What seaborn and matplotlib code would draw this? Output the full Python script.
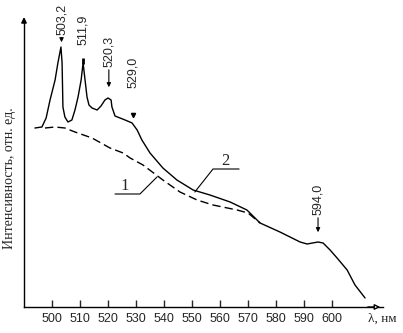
import matplotlib
matplotlib.use("Agg")
import matplotlib.pyplot as plt
import pandas as pd
import seaborn as sns

# -- Spectrum data (wavelength nm, intensity rel. units) -----------------------
wl_2 = [493.9, 496.4, 497.9, 499.3, 501.1, 502.1, 503.2, 503.6, 503.9, 504.6,
        505.7, 507.1, 508.2, 509.3, 510.4, 511.1, 511.8, 512.5, 513.2, 514.3,
        516.1, 517.5, 518.9, 520.0, 521.1, 521.4, 522.5, 524.3, 526.1, 528.6,
        530.4, 532.1, 535.0, 539.6, 544.6, 550.4, 556.4, 563.6, 569.6, 574.3,
        581.4, 588.6, 591.1, 595.0, 596.8, 599.3, 601.8, 605.4, 608.2, 611.8]
int_2 = [179, 180, 189, 207, 227, 244, 260, 244, 200, 190,
         185, 187, 197, 210, 227, 244, 227, 210, 202, 199,
         197, 201, 207, 209, 207, 200, 191, 189, 187, 184,
         177, 167, 154, 139, 127, 117, 112, 105, 97, 84,
         75, 65, 63, 65, 64, 57, 49, 37, 22, 9]

wl_1 = [497.5, 501.1, 504.6, 508.2, 514.3, 520.7, 525.4, 527.9, 532.5, 539.6,
        545.7, 551.8, 557.5, 566.1, 570.0, 574.3]
int_1 = [179, 180, 179, 175, 169, 159, 154, 149, 142, 127,
         115, 107, 102, 97, 94, 84]

peak_labels = ["503,2", "511,9", "520,3", "529,0", "594,0"]
peak_wl = [503.4, 511.1, 520.3, 528.9, 595.0]
peak_tip = [262, 246, 217, 192, 72]
peak_text = [272, 262, 240, 219, 92]
peak_line = [True, False, True, False, True]

xticks = [500, 510, 520, 530, 540, 550, 560, 570, 580, 590, 600]

sns.set_style("white")
plt.rcParams["font.family"] = ["Liberation Serif", "DejaVu Serif"]
SANS = ["Liberation Sans", "DejaVu Sans"]

df1 = pd.DataFrame({"wl": wl_1, "I": int_1})
df2 = pd.DataFrame({"wl": wl_2, "I": int_2})

fig = plt.figure(figsize=(4.03, 3.33), dpi=100)
ax = fig.add_axes([24 / 403, 26 / 333, 359 / 403, 287 / 333])

sns.lineplot(data=df2, x="wl", y="I", ax=ax, color="black", lw=1.0,
             sort=False, estimator=None)
sns.lineplot(data=df1, x="wl", y="I", ax=ax, color="black", lw=1.0,
             sort=False, estimator=None, linestyle=(0, (6, 3)))

ax.set_xlim(490, 618.2)
ax.set_ylim(0, 287)
ax.set_xlabel("")
ax.set_ylabel("")

# -- Axes: only left/bottom, with arrow heads ----------------------------------
for s in ["top", "right"]:
    ax.spines[s].set_visible(False)
for s in ["left", "bottom"]:
    ax.spines[s].set_color("black")
    ax.spines[s].set_linewidth(1.0)
ax.annotate("", xy=(0, 1.02), xytext=(0, 0.98), xycoords="axes fraction",
            arrowprops=dict(arrowstyle="-|>", color="black", lw=1.0,
                            mutation_scale=8))
ax.annotate("", xy=(1.0, 0), xytext=(0.95, 0), xycoords="axes fraction",
            arrowprops=dict(arrowstyle="-|>", color="black", lw=1.0,
                            mutation_scale=8, fc="white"))

ax.set_xticks(xticks)
ax.set_yticks([])
ax.tick_params(axis="x", direction="in", length=5, width=1.0, pad=4.5,
               labelsize=9, bottom=True)
for lab in ax.get_xticklabels():
    lab.set_fontfamily(SANS)

ax.text(0.997, -0.021, "λ, нм", transform=ax.transAxes, ha="center", va="top",
        fontsize=9.5)
ax.text(-0.04, 0.45, "Интенсивность, отн. ед.", transform=ax.transAxes,
        rotation=90, ha="center", va="center", fontsize=10)

# -- Peak annotations ----------------------------------------------------------
for lab, wl, tip, txt, line in zip(peak_labels, peak_wl, peak_tip, peak_text, peak_line):
    ax.text(wl, txt, lab, rotation=90, ha="center", va="bottom", fontsize=9,
            fontfamily=SANS)
    if line:
        ax.annotate("", xy=(wl, tip), xytext=(wl, txt),
                    arrowprops=dict(arrowstyle="-|>", color="black", lw=0.8,
                                    mutation_scale=6))
    elif lab == "529,0":
        ax.plot([wl], [tip], marker="v", ms=3, color="black")
    else:
        ax.plot([wl], [tip], marker="|", ms=5, mew=2, color="black")

# -- Curve labels with leader lines --------------------------------------------
ax.text(526.0, 113, "1", ha="center", va="bottom", fontsize=12)
ax.plot([522.5, 531.4, 537.5], [113, 113, 130], color="black", lw=0.8)
ax.text(562.0, 138, "2", ha="center", va="bottom", fontsize=12)
ax.plot([566.8, 557.5, 551.0], [138, 138, 115], color="black", lw=0.8)

fig.savefig("out.png", dpi=100)
